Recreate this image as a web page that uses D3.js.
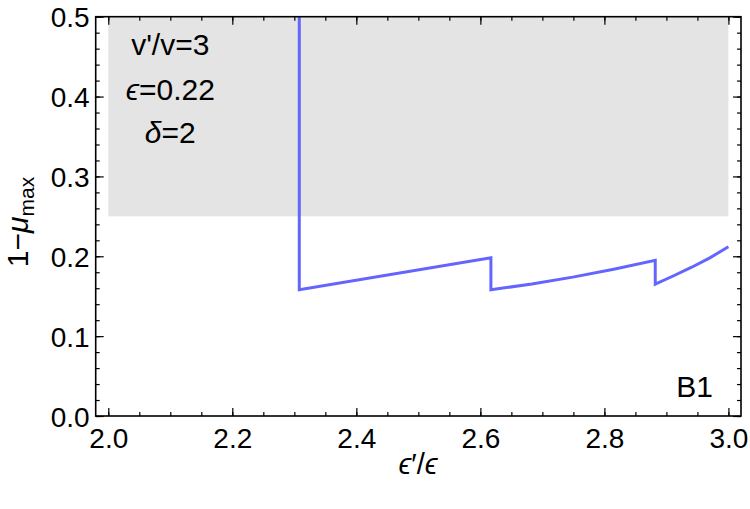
<!DOCTYPE html>
<html>
    <head>
        <script src="https://d3js.org/d3.v7.min.js"></script>
        <style>
         body { margin: 0; background: white; }
         text { font-family: "Liberation Sans", Arial, sans-serif; fill: #000; }
        </style>
    </head>
    <body>
        <svg width="750" height="509"></svg>
        <script>
         // tick values
         const xMajor = [2.0, 2.2, 2.4, 2.6, 2.8, 3.0];
         const xMinor = d3.range(0, 21).map(i => 2 + i * 0.05);
         const yMajor = [0.0, 0.1, 0.2, 0.3, 0.4, 0.5];
         const yMinor = d3.range(0, 26).map(i => i * 0.02);

         // curve: 1 - mu_max against eps'/eps
         const curveX = [2.308, 2.308, 2.617, 2.617, 2.683, 2.749, 2.815, 2.882, 2.882, 2.91, 2.94, 2.97, 3.0];
         const curveY = [0.5, 0.158, 0.198, 0.158, 0.1653, 0.1739, 0.1838, 0.195, 0.165, 0.175, 0.186, 0.198, 0.212];

         // excluded band
         const bandX = [2.0, 3.0];
         const bandY = [0.25, 0.5];

         const notes = ["v'/v=3", "ϵ=0.22", "δ=2"];
         const noteY = [0.452, 0.396, 0.342];

         const svg = d3.select("svg");
         const fLeft = 95.7, fRight = 741, fTop = 16.7, fBottom = 416;

         // frame carries a small padding round x in [2, 3]
         const pad = (fRight - fLeft) * 0.0195;
         const x = d3.scaleLinear().domain([2, 3]).range([fLeft + pad, fRight - pad]);
         const y = d3.scaleLinear().domain([0, 0.5]).range([fBottom, fTop]);

         svg.append("defs").append("clipPath").attr("id", "clip")
            .append("rect")
            .attr("x", fLeft).attr("y", fTop)
            .attr("width", fRight - fLeft).attr("height", fBottom - fTop);

         svg.append("rect")
            .attr("x", x(bandX[0]))
            .attr("y", y(bandY[1]))
            .attr("width", x(bandX[1]) - x(bandX[0]))
            .attr("height", y(bandY[0]) - y(bandY[1]))
            .attr("fill", "#e4e4e4");

         const pts = curveX.map((d, i) => [d, curveY[i]]);
         svg.append("path")
            .datum(pts)
            .attr("clip-path", "url(#clip)")
            .attr("fill", "none")
            .attr("stroke", "#6464ff")
            .attr("stroke-width", 3)
            .attr("stroke-linejoin", "miter")
            .attr("d", d3.line().x(d => x(d[0])).y(d => y(d[1])));

         // axes, ticks pointing inward
         function axis(gen, scale, vals, size, labels, tr) {
             const a = gen(scale).tickValues(vals).tickSize(-size)
                                 .tickFormat(labels ? d3.format(".1f") : "");
             const g = svg.append("g").attr("transform", tr).call(a);
             g.select(".domain").remove();
             g.selectAll("line").attr("stroke", "#000").attr("stroke-width", 1.2);
             return g;
         }
         axis(d3.axisBottom, x, xMinor, 4, false, `translate(0,${fBottom})`);
         axis(d3.axisTop, x, xMinor, 4, false, `translate(0,${fTop})`);
         axis(d3.axisLeft, y, yMinor, 4, false, `translate(${fLeft},0)`);
         axis(d3.axisRight, y, yMinor, 4, false, `translate(${fRight},0)`);
         axis(d3.axisTop, x, xMajor, 8, false, `translate(0,${fTop})`);
         axis(d3.axisRight, y, yMajor, 8, false, `translate(${fRight},0)`);

         const gx = axis(d3.axisBottom, x, xMajor, 8, true, `translate(0,${fBottom})`);
         gx.selectAll("text").attr("y", 12).attr("font-size", 28).attr("font-family", "Liberation Sans");
         const gy = axis(d3.axisLeft, y, yMajor, 8, true, `translate(${fLeft},0)`);
         gy.selectAll("text").attr("x", -6).attr("dy", "0.36em").attr("font-size", 28).attr("font-family", "Liberation Sans");

         svg.append("rect")
            .attr("x", fLeft).attr("y", fTop)
            .attr("width", fRight - fLeft).attr("height", fBottom - fTop)
            .attr("fill", "none").attr("stroke", "#000").attr("stroke-width", 1.6);

         // parameter notes
         svg.selectAll(".note")
            .data(notes)
            .join("text")
            .attr("class", "note")
            .attr("x", x(2.1))
            .attr("y", (d, i) => y(noteY[i]))
            .attr("text-anchor", "middle")
            .attr("font-size", 30)
            .each(function (d) {
                const t = d3.select(this);
                const m = d.match(/^([ϵδ])(.*)$/);
                if (m) {
                    t.append("tspan").attr("font-style", "italic").text(m[1]);
                    t.append("tspan").text(m[2]);
                } else {
                    t.text(d);
                }
            });

         svg.append("text")
            .attr("x", x(2.975))
            .attr("y", y(0.024))
            .attr("text-anchor", "end")
            .attr("font-size", 30)
            .text("B1");

         // axis titles
         const xt = svg.append("text")
            .attr("x", 418)
            .attr("y", 474)
            .attr("text-anchor", "middle")
            .attr("font-size", 29);
         xt.append("tspan").attr("font-style", "italic").text("ϵ");
         xt.append("tspan").text("′/");
         xt.append("tspan").attr("font-style", "italic").text("ϵ");

         const yt = svg.append("text")
            .attr("transform", "translate(28,222) rotate(-90)")
            .attr("text-anchor", "middle")
            .attr("font-size", 30);
         yt.append("tspan").text("1−");
         yt.append("tspan").attr("font-style", "italic").text("μ");
         yt.append("tspan").attr("font-size", 21).attr("dy", 6).text("max");
        </script>
    </body>
</html>
